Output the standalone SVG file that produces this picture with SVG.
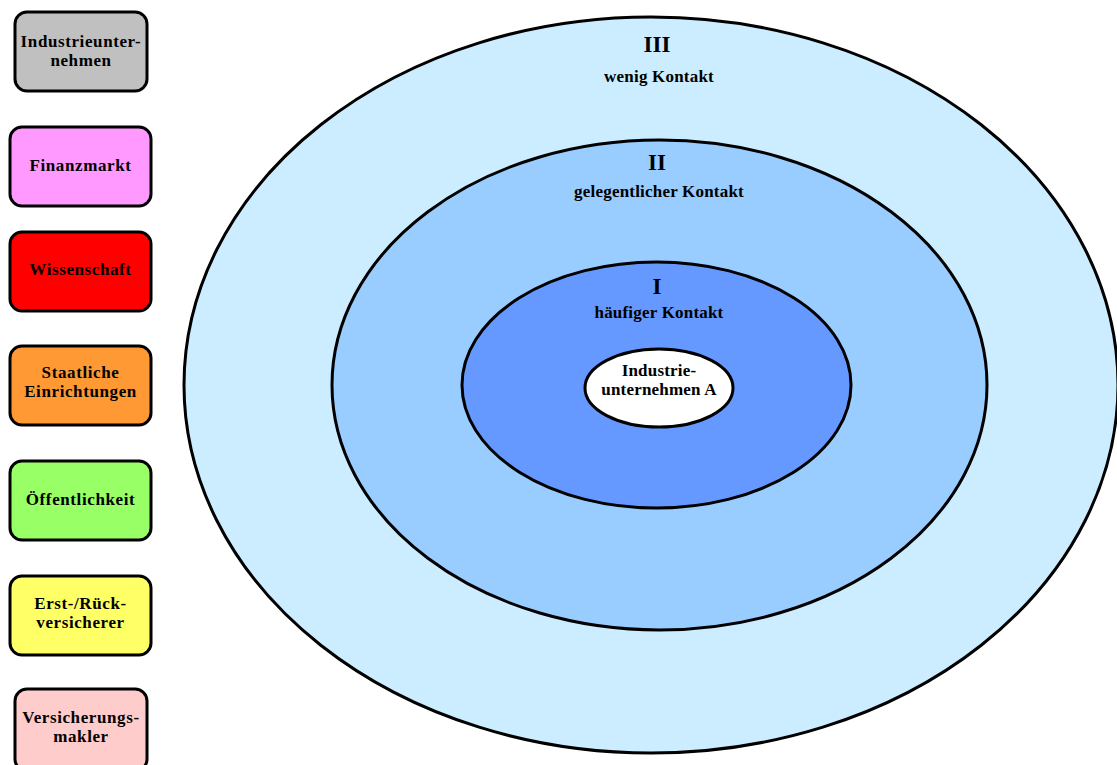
<svg xmlns="http://www.w3.org/2000/svg" width="1117" height="765" viewBox="0 0 1117 765">
<style>
.b{stroke:#000;stroke-width:3}
.t{font-family:"Liberation Serif","Times New Roman",serif;font-weight:bold;font-size:17px;letter-spacing:0.6px;fill:#000;text-anchor:middle}
.r{font-size:23px;letter-spacing:0}
.s{letter-spacing:0.2px}
</style>
<rect width="1117" height="765" fill="#fff"/>
<g id="ring3"><ellipse class="b" cx="651" cy="385" rx="467" ry="368" fill="#CCECFF"/>
<text class="t r" x="657" y="52">III</text><text class="t s" x="659" y="82">wenig Kontakt</text></g>
<g id="ring2"><ellipse class="b" cx="659.5" cy="385" rx="327.5" ry="245" fill="#99CCFF"/>
<text class="t r" x="657" y="170">II</text><text class="t s" x="659" y="197">gelegentlicher Kontakt</text></g>
<g id="ring1"><ellipse class="b" cx="656.5" cy="385" rx="194.5" ry="123" fill="#6699FF"/>
<text class="t r" x="657" y="294">I</text><text class="t s" x="659" y="318">häufiger Kontakt</text></g>
<g id="center"><ellipse class="b" cx="659" cy="388" rx="74" ry="39" fill="#fff"/>
<text class="t s" x="659" y="376">Industrie-</text><text class="t s" x="659" y="395">unternehmen A</text></g>
<g id="n1"><rect class="b" x="15" y="12" width="132" height="79" rx="12" fill="#C0C0C0"/>
<text class="t" x="81" y="47">Industrieunter-</text><text class="t" x="81" y="66">nehmen</text></g>
<g id="n2"><rect class="b" x="10" y="127" width="141" height="79" rx="12" fill="#FF99FF"/>
<text class="t" x="80.5" y="171">Finanzmarkt</text></g>
<g id="n3"><rect class="b" x="10" y="232" width="141" height="79" rx="12" fill="#FF0000"/>
<text class="t" x="80.5" y="275">Wissenschaft</text></g>
<g id="n4"><rect class="b" x="10" y="346" width="141" height="79" rx="12" fill="#FF9933"/>
<text class="t" x="80.5" y="378">Staatliche</text><text class="t" x="80.5" y="397">Einrichtungen</text></g>
<g id="n5"><rect class="b" x="10" y="461" width="141" height="79" rx="12" fill="#99FF66"/>
<text class="t" x="80.5" y="505">Öffentlichkeit</text></g>
<g id="n6"><rect class="b" x="10" y="576" width="141" height="79" rx="12" fill="#FFFF66"/>
<text class="t" x="80.5" y="609">Erst-/Rück-</text><text class="t" x="80.5" y="628">versicherer</text></g>
<g id="n7"><rect class="b" x="15" y="689" width="132" height="82" rx="12" fill="#FFCCCC"/>
<text class="t" x="81" y="723">Versicherungs-</text><text class="t" x="81" y="742">makler</text></g>
<g id="connectors"/>
</svg>
